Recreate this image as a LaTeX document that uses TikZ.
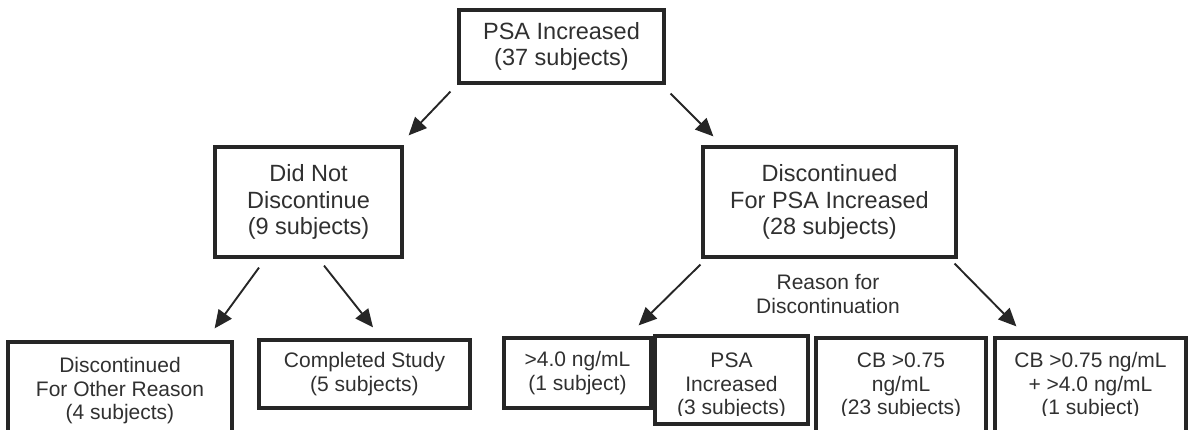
\documentclass[tikz,border=0pt]{standalone}
\usepackage{fontspec}
\setmainfont{Liberation Sans}
\usetikzlibrary{arrows.meta}
\definecolor{txt}{HTML}{303030}
\definecolor{ln}{HTML}{262626}
\begin{document}
\begin{tikzpicture}[x=1pt,y=-1pt,
  box/.style={draw=ln, line width=3.2pt, rectangle, inner sep=0pt, align=center, text=txt},
  big/.style={font=\fontsize{23.5}{26.5}\selectfont},
  small/.style={font=\fontsize{21}{23.5}\selectfont},
  lbl/.style={small, text=txt, align=center, inner sep=0pt},
  arr/.style={draw=ln, line width=1.9pt, -{Triangle[length=18pt,width=16pt]}}]
\useasboundingbox (0,0) rectangle (1188,429);
\clip (0,0) rectangle (1188,429);
% upper boxes
\node[box,big,minimum width=205pt,minimum height=73pt] (top) at (561.5,46.5) {PSA Increased\\(37 subjects)};
\node[box,big,minimum width=187pt,minimum height=110pt] (dnd) at (308.5,202) {Did Not\\Discontinue\\(9 subjects)};
\node[box,big,minimum width=253pt,minimum height=110pt] (dpsa) at (829.5,202) {Discontinued\\For PSA Increased\\(28 subjects)};
\node[lbl] (reason) at (828,294) {Reason for\\Discontinuation};
% lower boxes
\node[box,small,minimum width=224pt,minimum height=98pt] (other) at (120,391) {Discontinued\\For Other Reason\\(4 subjects)};
\node[box,small,minimum width=211pt,minimum height=68pt] (comp) at (364.5,374) {Completed Study\\(5 subjects)};
\node[box,small,minimum width=147pt,minimum height=70pt] (gt4) at (577.5,373) {>4.0 ng/mL\\(1 subject)};
\node[box,minimum width=153pt,minimum height=88pt] (psainc) at (731.5,380) {};
\node[box,minimum width=170pt,minimum height=96pt] (cb) at (901,386) {};
\node[box,minimum width=191pt,minimum height=96pt] (cbp) at (1090.5,386) {};
\begin{scope}
  \clip (640,330) rectangle (1188,415.5);
  \node[lbl] (psainct) at (731.5,386) {PSA\\Increased\\(3 subjects)};
  \node[lbl] (cbt) at (901,386) {CB >0.75\\ng/mL\\(23 subjects)};
  \node[lbl] (cbpt) at (1090.5,386) {CB >0.75 ng/mL\\+ >4.0 ng/mL\\(1 subject)};
\end{scope}
% arrows
\draw[arr] ([shift={(-7,7)}]top.south west) -- ([shift={(5,-10)}]dnd.north east);
\draw[arr] ([shift={(5,9)}]top.south east) -- ([shift={(12,-9)}]dpsa.north west);
\draw[arr] ([shift={(-49.5,9)}]dnd.south) -- ([shift={(-19,-12)}]other.north east);
\draw[arr] ([shift={(15.5,7)}]dnd.south) -- ([shift={(8.5,-11)}]comp.north);
\draw[arr] ([shift={(-1,6)}]dpsa.south west) -- ([shift={(-14,-11)}]gt4.north east);
\draw[arr] ([shift={(-3,5)}]dpsa.south east) -- ([shift={(23,-10)}]cbp.north west);
\end{tikzpicture}
\end{document}
